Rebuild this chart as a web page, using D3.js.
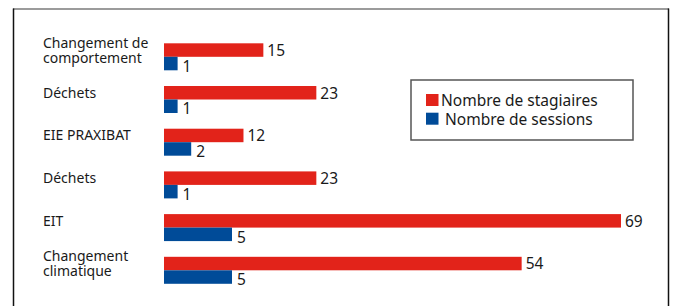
<!DOCTYPE html>
<html>
<head>
<meta charset="utf-8">
<script src="https://cdn.jsdelivr.net/npm/d3@7"></script>
<style>
  body { margin: 0; background: #fff; }
  text { font-family: "Noto Sans", sans-serif; fill: #1a1a1a; }
</style>
</head>
<body>
<div id="vis"></div>
<script>
const WIDTH = 673;
const HEIGHT = 306;

// data
const categories = [
  ["Changement de", "comportement"],
  ["Déchets"],
  ["EIE PRAXIBAT"],
  ["Déchets"],
  ["EIT"],
  ["Changement", "climatique"],
];
const stagiaires = [15, 23, 12, 23, 69, 54];
const sessions = [1, 1, 2, 1, 5, 5];
const seriesNames = ["Nombre de stagiaires", "Nombre de sessions"];
const colors = ["#e2231a", "#004b98"];

const BAR_X = 164;

const svg = d3
  .select("#vis")
  .append("svg")
  .attr("width", WIDTH)
  .attr("height", HEIGHT);

// frame
svg.append("line")
  .attr("x1", 13).attr("x2", 669).attr("y1", 9).attr("y2", 9)
  .attr("stroke", "#7a7a7a").attr("stroke-width", 1.5);
svg.append("line")
  .attr("x1", 13.5).attr("x2", 13.5).attr("y1", 8.5).attr("y2", HEIGHT)
  .attr("stroke", "#111").attr("stroke-width", 1.5);
svg.append("line")
  .attr("x1", 668.5).attr("x2", 668.5).attr("y1", 8.5).attr("y2", HEIGHT)
  .attr("stroke", "#111").attr("stroke-width", 1.5);

// scales
const yScale = d3
  .scaleBand()
  .domain(d3.range(categories.length))
  .range([30.5, 296.6])
  .paddingInner(0.368)
  .paddingOuter(0.3);

const sub = d3
  .scaleBand()
  .domain([0, 1])
  .range([0, yScale.bandwidth()]);

const xStag = d3.scaleLinear().domain([0, 69]).range([BAR_X, 621]);
const xSess = d3.scaleLinear().domain([0, 5]).range([BAR_X, 232]);

const groups = svg
  .selectAll(".group")
  .data(categories.map((c, i) => ({ c, i, s: stagiaires[i], n: sessions[i] })))
  .enter()
  .append("g")
  .attr("class", "group")
  .attr("transform", (d) => `translate(0,${yScale(d.i)})`);

// red bars
groups.append("rect")
  .attr("x", BAR_X)
  .attr("y", sub(0))
  .attr("width", (d) => xStag(d.s) - BAR_X)
  .attr("height", sub.bandwidth())
  .attr("fill", colors[0]);

groups.append("text")
  .attr("x", (d) => xStag(d.s) + 4)
  .attr("y", sub(0) + sub.bandwidth() - 1)
  .attr("font-size", 15.5)
  .text((d) => d.s);

// blue bars
groups.append("rect")
  .attr("x", BAR_X)
  .attr("y", sub(1))
  .attr("width", (d) => xSess(d.n) - BAR_X)
  .attr("height", sub.bandwidth())
  .attr("fill", colors[1]);

groups.append("text")
  .attr("x", (d) => xSess(d.n) + 5)
  .attr("y", sub(1) + sub.bandwidth() + 1.5)
  .attr("font-size", 15.5)
  .text((d) => d.n);

// category labels
groups.each(function (d) {
  const g = d3.select(this);
  const lh = 15;
  const mid = sub(0) + sub.bandwidth() / 2;
  const y0 = mid + 5 - ((d.c.length - 1) * lh) / 2;
  d.c.forEach((line, k) => {
    g.append("text")
      .attr("x", 43)
      .attr("y", y0 + k * lh)
      .attr("font-size", 14)
      .text(line);
  });
});

// legend
const legend = svg.append("g");
legend.append("rect")
  .attr("x", 411).attr("y", 80).attr("width", 222).attr("height", 60)
  .attr("fill", "#fff").attr("stroke", "#555").attr("stroke-width", 1.5);

seriesNames.forEach((name, i) => {
  legend.append("rect")
    .attr("x", 426).attr("y", 94 + i * 18.7)
    .attr("width", 12.5).attr("height", 12)
    .attr("fill", colors[i]);
  legend.append("text")
    .attr("x", i === 0 ? 441 : 445).attr("y", 106 + i * 18.7)
    .attr("font-size", 15.5)
    .text(name);
});
</script>
</body>
</html>
